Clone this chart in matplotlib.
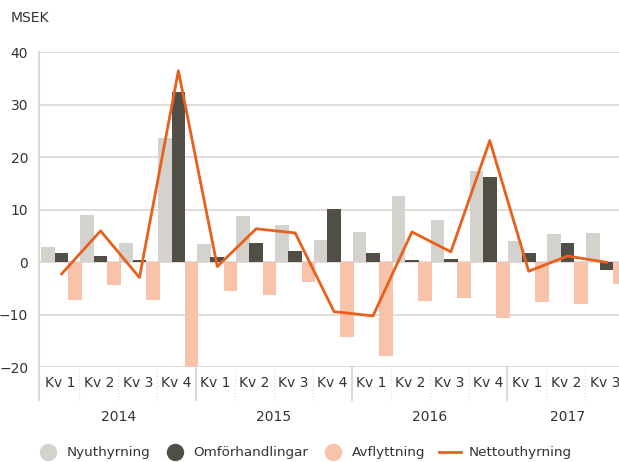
import numpy as np
import matplotlib
matplotlib.use("Agg")
from matplotlib import pyplot as plt
from matplotlib.lines import Line2D
import matplotlib.transforms as mtransforms

# Quarterly values, MSEK
quarters = ["Kv 1", "Kv 2", "Kv 3", "Kv 4"] * 3 + ["Kv 1", "Kv 2", "Kv 3"]
years = ["2014", "2015", "2016", "2017"]
nyuthyrning = [3.0, 9.0, 3.6, 23.7, 3.4, 8.8, 7.1, 4.2, 5.7, 12.6, 8.0, 17.4, 4.0, 5.4, 5.5]
omforhandlingar = [1.7, 1.2, 0.4, 32.5, 1.0, 3.6, 2.1, 10.1, 1.7, 0.4, 0.6, 16.2, 1.7, 3.6, -1.5]
avflyttning = [-7.2, -4.3, -7.1, -20.0, -5.5, -6.2, -3.7, -14.2, -17.9, -7.4, -6.8, -10.6, -7.6, -7.9, -4.1]
netto = [-2.2, 6.0, -2.9, 36.5, -0.8, 6.4, 5.6, -9.4, -10.2, 5.8, 2.0, 23.2, -1.7, 1.2, 0.0]

c_light = "#D3D2CD"
c_dark = "#514E46"
c_pink = "#F8C3A9"
c_line = "#E8601C"
c_grid = "#DDD9D6"
c_text = "#333333"

plt.rcParams['font.family'] = ['DejaVu Sans']
plt.rcParams['font.size'] = 10

fig = plt.figure(figsize=(6.19, 4.62), dpi=100)
ax = fig.add_axes([0.0635, 0.205, 0.9365, 0.6815])

x = np.arange(len(quarters))
w = 0.35
ax.bar(x - 0.345, nyuthyrning, w, color=c_light, zorder=2)
ax.bar(x, omforhandlingar, w, color=c_dark, zorder=2)
ax.bar(x + 0.34, avflyttning, w, color=c_pink, zorder=2)
ax.plot(x, netto, color=c_line, lw=2, zorder=3)

ax.set_xlim(-0.573, 14.32)
ax.set_ylim(-20, 40)
ax.set_yticks(np.arange(-20, 41, 10))
ax.set_yticklabels([str(v).replace("-", "\u2212") for v in range(-20, 41, 10)])
ax.yaxis.grid(True, color=c_grid, lw=1.3, zorder=0)
ax.set_axisbelow(True)
ax.tick_params(axis='y', length=0, pad=8, colors=c_text, labelsize=10)
ax.set_xticks([])
for s in ax.spines.values():
    s.set_visible(False)

trans = mtransforms.blended_transform_factory(ax.transData, ax.transAxes)

# left axis line, running down into the label area
ax.plot([-0.573, -0.573], [-0.104, 1.0], transform=trans, color=c_grid,
        lw=1.5, clip_on=False)

# quarter labels and separators
for i, q in enumerate(quarters):
    ax.text(i - 0.045, -0.05, q, transform=trans, ha='center', va='center',
            color=c_text, fontsize=10)
    sep = i + 0.455
    if i % 4 == 3:
        ax.plot([sep, sep], [-0.104, 0], transform=trans, color=c_grid,
                lw=1.5, clip_on=False)
    elif i < len(quarters) - 1:
        ax.plot([sep, sep], [-0.104, 0], transform=trans, color=c_grid,
                lw=0.8, ls=(0, (1, 2)), clip_on=False)

# year labels
for k, yr in enumerate(years):
    start = 4 * k
    end = 4 * k + 3
    mid = (start + end) / 2 - 0.045
    if k == 3:
        mid = 13.0
    ax.text(mid, -0.158, yr, transform=trans, ha='center', va='center',
            color=c_text, fontsize=10)

fig.text(0.017, 0.962, "MSEK", ha='left', va='center', color=c_text, fontsize=10)

handles = [
    Line2D([], [], ls='none', marker='o', ms=11.5, color=c_light),
    Line2D([], [], ls='none', marker='o', ms=11.5, color=c_dark),
    Line2D([], [], ls='none', marker='o', ms=11.5, color=c_pink),
    Line2D([], [], color=c_line, lw=2),
]
labels = ["Nyuthyrning", "Omförhandlingar", "Avflyttning", "Nettouthyrning"]
leg = fig.legend(handles, labels, ncol=4, loc='center', bbox_to_anchor=(0.492, 0.02),
                 frameon=False, handlelength=1.6, handletextpad=0.55,
                 columnspacing=1.05, fontsize=9.7)
for t in leg.get_texts():
    t.set_color(c_text)

fig.savefig("out.png", dpi=100)
